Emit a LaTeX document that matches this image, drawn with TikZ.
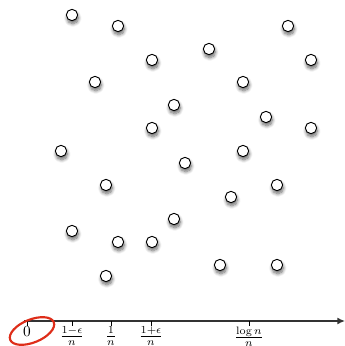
\documentclass[tikz,border=0pt]{standalone}
\usetikzlibrary{arrows.meta,shadows.blur}

\definecolor{markred}{RGB}{222,45,25}

\tikzset{
  pt/.style={circle,draw,fill=white,semithick,inner sep=0pt,minimum size=0.26cm,
    blur shadow={shadow xshift=0.5pt,shadow yshift=-2pt,shadow opacity=60,
      shadow blur radius=2.2pt,shadow blur steps=8}},
  ticklab/.style={anchor=north,inner sep=1pt}
}

\begin{document}
\begin{tikzpicture}[x=0.0229cm,y=-0.0229cm]
  \useasboundingbox (0,0) rectangle (345,346);

  % random points
  \foreach \x/\y [count=\i] in {72/15,118/26,152/60,209/49,288/26,311/60,95/82,243/82,
      174/105,266/117,311/128,152/128,61/151,243/151,185/163,106/185,277/185,231/197,
      174/219,72/231,118/242,152/242,220/265,277/265,106/276}{
    \node[pt] (p\i) at (\x,\y) {};
  }

  % axis
  \coordinate (o) at (24,321);
  \coordinate (e) at (345,321);
  \draw[line width=0.9pt,black!80,-{Latex[length=5pt,width=4.5pt]}] (o) -- (e);

  % ticks
  \foreach \x/\lab/\nm in {27/$0$/zero,72/$\frac{1-\epsilon}{n}$/lo,111/$\frac{1}{n}$/mid,
      151/$\frac{1+\epsilon}{n}$/hi,249/$\frac{\log n}{n}$/lg}{
    \coordinate (t\nm) at (\x,321);
    \draw[thin] (t\nm) -- ++(0,5);
    \node[ticklab] (\nm) at (\x,325) {\lab};
  }

  % highlight the origin
  \draw[markred,line width=1.4pt,rotate around={22:(32,331)}] (32,331) ellipse (23.5 and 11.5);
\end{tikzpicture}
\end{document}
